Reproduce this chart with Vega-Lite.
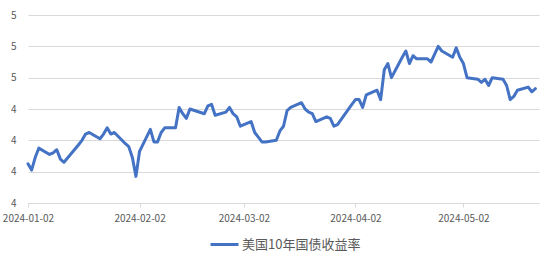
{
  "$schema": "https://vega.github.io/schema/vega-lite/v6.json",
  "width": 511,
  "height": 188,
  "autosize": "none",
  "padding": {"left": 28, "top": 15, "right": 15, "bottom": 62},
  "background": "white",
  "config": {
    "view": {"stroke": null},
    "font": "Noto Sans CJK SC",
    "axis": {"labelColor": "#595959", "labelFont": "Noto Sans CJK SC", "labelFontSize": 10}
  },
  "data": {
    "format": {"parse": {"date": "utc:'%Y-%m-%d'"}},
    "values": [
      {"date": "2024-01-02", "value": 3.95},
      {"date": "2024-01-03", "value": 3.91},
      {"date": "2024-01-04", "value": 3.99},
      {"date": "2024-01-05", "value": 4.05},
      {"date": "2024-01-08", "value": 4.01},
      {"date": "2024-01-09", "value": 4.02},
      {"date": "2024-01-10", "value": 4.04},
      {"date": "2024-01-11", "value": 3.98},
      {"date": "2024-01-12", "value": 3.96},
      {"date": "2024-01-16", "value": 4.07},
      {"date": "2024-01-17", "value": 4.10},
      {"date": "2024-01-18", "value": 4.14},
      {"date": "2024-01-19", "value": 4.15},
      {"date": "2024-01-22", "value": 4.11},
      {"date": "2024-01-23", "value": 4.14},
      {"date": "2024-01-24", "value": 4.18},
      {"date": "2024-01-25", "value": 4.14},
      {"date": "2024-01-26", "value": 4.15},
      {"date": "2024-01-29", "value": 4.08},
      {"date": "2024-01-30", "value": 4.06},
      {"date": "2024-01-31", "value": 3.99},
      {"date": "2024-02-01", "value": 3.87},
      {"date": "2024-02-02", "value": 4.03},
      {"date": "2024-02-05", "value": 4.17},
      {"date": "2024-02-06", "value": 4.09},
      {"date": "2024-02-07", "value": 4.09},
      {"date": "2024-02-08", "value": 4.15},
      {"date": "2024-02-09", "value": 4.18},
      {"date": "2024-02-12", "value": 4.18},
      {"date": "2024-02-13", "value": 4.31},
      {"date": "2024-02-14", "value": 4.27},
      {"date": "2024-02-15", "value": 4.24},
      {"date": "2024-02-16", "value": 4.30},
      {"date": "2024-02-20", "value": 4.27},
      {"date": "2024-02-21", "value": 4.32},
      {"date": "2024-02-22", "value": 4.33},
      {"date": "2024-02-23", "value": 4.26},
      {"date": "2024-02-26", "value": 4.28},
      {"date": "2024-02-27", "value": 4.31},
      {"date": "2024-02-28", "value": 4.27},
      {"date": "2024-02-29", "value": 4.25},
      {"date": "2024-03-01", "value": 4.19},
      {"date": "2024-03-04", "value": 4.22},
      {"date": "2024-03-05", "value": 4.15},
      {"date": "2024-03-06", "value": 4.12},
      {"date": "2024-03-07", "value": 4.09},
      {"date": "2024-03-08", "value": 4.09},
      {"date": "2024-03-11", "value": 4.10},
      {"date": "2024-03-12", "value": 4.16},
      {"date": "2024-03-13", "value": 4.19},
      {"date": "2024-03-14", "value": 4.29},
      {"date": "2024-03-15", "value": 4.31},
      {"date": "2024-03-18", "value": 4.34},
      {"date": "2024-03-19", "value": 4.30},
      {"date": "2024-03-20", "value": 4.28},
      {"date": "2024-03-21", "value": 4.27},
      {"date": "2024-03-22", "value": 4.22},
      {"date": "2024-03-25", "value": 4.25},
      {"date": "2024-03-26", "value": 4.24},
      {"date": "2024-03-27", "value": 4.19},
      {"date": "2024-03-28", "value": 4.20},
      {"date": "2024-04-01", "value": 4.33},
      {"date": "2024-04-02", "value": 4.36},
      {"date": "2024-04-03", "value": 4.36},
      {"date": "2024-04-04", "value": 4.31},
      {"date": "2024-04-05", "value": 4.39},
      {"date": "2024-04-08", "value": 4.42},
      {"date": "2024-04-09", "value": 4.36},
      {"date": "2024-04-10", "value": 4.55},
      {"date": "2024-04-11", "value": 4.59},
      {"date": "2024-04-12", "value": 4.50},
      {"date": "2024-04-15", "value": 4.63},
      {"date": "2024-04-16", "value": 4.67},
      {"date": "2024-04-17", "value": 4.59},
      {"date": "2024-04-18", "value": 4.64},
      {"date": "2024-04-19", "value": 4.62},
      {"date": "2024-04-22", "value": 4.62},
      {"date": "2024-04-23", "value": 4.60},
      {"date": "2024-04-24", "value": 4.65},
      {"date": "2024-04-25", "value": 4.70},
      {"date": "2024-04-26", "value": 4.67},
      {"date": "2024-04-29", "value": 4.63},
      {"date": "2024-04-30", "value": 4.69},
      {"date": "2024-05-01", "value": 4.63},
      {"date": "2024-05-02", "value": 4.59},
      {"date": "2024-05-03", "value": 4.50},
      {"date": "2024-05-06", "value": 4.49},
      {"date": "2024-05-07", "value": 4.47},
      {"date": "2024-05-08", "value": 4.49},
      {"date": "2024-05-09", "value": 4.45},
      {"date": "2024-05-10", "value": 4.50},
      {"date": "2024-05-13", "value": 4.49},
      {"date": "2024-05-14", "value": 4.45},
      {"date": "2024-05-15", "value": 4.36},
      {"date": "2024-05-16", "value": 4.38},
      {"date": "2024-05-17", "value": 4.42},
      {"date": "2024-05-20", "value": 4.44},
      {"date": "2024-05-21", "value": 4.41},
      {"date": "2024-05-22", "value": 4.43}
    ]
  },
  "mark": {"type": "line", "strokeWidth": 3, "strokeJoin": "round", "strokeCap": "round"},
  "encoding": {
    "x": {
      "field": "date",
      "type": "temporal",
      "scale": {"type": "utc", "domain": [{"year": 2024, "month": 1, "date": 2, "utc": true}, {"year": 2024, "month": 5, "date": 23, "utc": true}]},
      "axis": {
        "title": null,
        "grid": false,
        "format": "%Y-%m-%d",
        "values": [
          {"year": 2024, "month": 1, "date": 2, "utc": true},
          {"year": 2024, "month": 2, "date": 2, "utc": true},
          {"year": 2024, "month": 3, "date": 2, "utc": true},
          {"year": 2024, "month": 4, "date": 2, "utc": true},
          {"year": 2024, "month": 5, "date": 2, "utc": true}
        ],
        "domainColor": "#D9D9D9",
        "tickColor": "#D9D9D9",
        "tickSize": 4,
        "labelPadding": 6,
        "labelAlign": "center",
        "labelFlush": false,
        "labelOverlap": false
      }
    },
    "y": {
      "field": "value",
      "type": "quantitative",
      "scale": {"domain": [3.7, 4.9], "nice": false, "zero": false},
      "axis": {
        "title": null,
        "values": [3.7, 3.9, 4.1, 4.3, 4.5, 4.7, 4.9],
        "format": ".0f",
        "domain": false,
        "ticks": false,
        "labelPadding": 12,
        "labelOverlap": false,
        "gridColor": "#D9D9D9",
        "gridWidth": 1
      }
    },
    "color": {
      "datum": "美国10年国债收益率",
      "scale": {"range": ["#4472C4"]},
      "legend": {
        "title": null,
        "orient": "none",
        "legendX": 181,
        "legendY": 214,
        "symbolType": "stroke",
        "symbolSize": 784,
        "symbolStrokeWidth": 3,
        "labelFontSize": 13,
        "labelColor": "#595959",
        "labelFont": "Noto Sans CJK SC",
        "labelOffset": 2
      }
    }
  }
}
